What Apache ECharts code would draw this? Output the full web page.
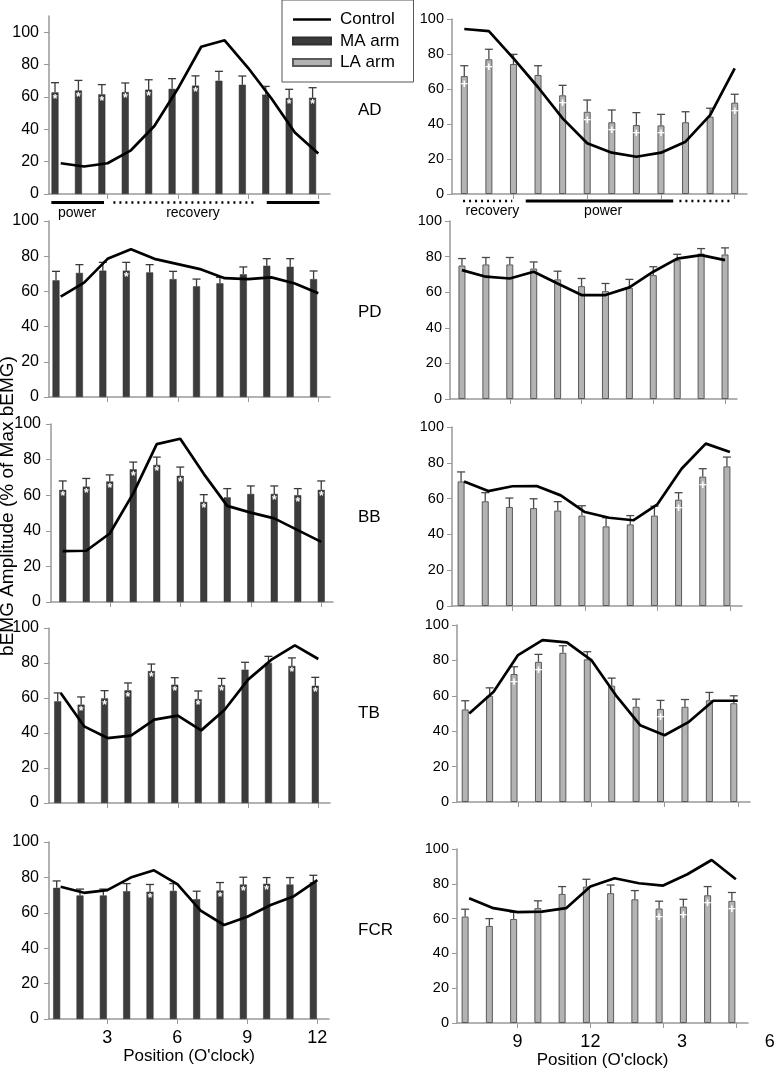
<!DOCTYPE html>
<html>
<head>
<meta charset="utf-8">
<title>bEMG amplitude by clock position</title>
<script src="https://cdn.jsdelivr.net/npm/echarts@6/dist/echarts.min.js"></script>
<style>
  html, body { margin: 0; padding: 0; background: #fff; }
  #chart { width: 777px; height: 1068px; }
</style>
</head>
<body>
<div id="chart"></div>
<script>
// clock positions: MA arm cycle starts at 1 o'clock, LA arm at 7 o'clock
var posMA = ['1', '2', '3', '4', '5', '6', '7', '8', '9', '10', '11', '12'];
var posLA = ['7', '8', '9', '10', '11', '12', '1', '2', '3', '4', '5', '6'];
var yTicks = [0, 20, 40, 60, 80, 100];

// MA arm (left column): mean, SD, control line, significance (*)
var maAD     = [62.8, 64.0, 61.6, 63.0, 64.5, 65.0, 67.0, 70.0, 67.5, 61.4, 59.3, 59.5];
var maADsd   = [6.0, 6.2, 6.0, 5.6, 6.1, 6.3, 6.0, 5.8, 5.4, 5.1, 5.4, 6.2];
var ctlMaAD  = [19, 17, 19, 27, 42, 65, 91, 95, 78, 59, 38, 25];
var sigMaAD  = [1, 1, 1, 1, 1, 0, 1, 0, 0, 0, 1, 1];

var maPD     = [66.3, 70.5, 71.8, 71.8, 70.8, 67.0, 62.9, 64.6, 69.7, 74.6, 74.0, 67.0];
var maPDsd   = [5.1, 4.7, 4.7, 4.7, 4.4, 4.4, 4.1, 3.4, 4.2, 4.0, 4.6, 4.6];
var ctlMaPD  = [57, 65, 78.5, 84, 78.5, 75.5, 72.5, 67.5, 67, 68, 64.5, 59];
var sigMaPD  = [0, 0, 0, 1, 0, 0, 0, 0, 0, 0, 0, 0];

var maBB     = [63.0, 64.8, 67.7, 74.6, 77.0, 70.9, 56.2, 58.8, 60.7, 60.7, 60.0, 63.0];
var maBBsd   = [5.0, 4.6, 3.7, 4.0, 4.4, 4.9, 4.1, 4.9, 4.5, 4.5, 3.7, 5.0];
var ctlMaBB  = [28.6, 28.8, 38.5, 61, 88.7, 91.7, 72, 54, 50.2, 47, 40.4, 33.8];
var sigMaBB  = [1, 1, 1, 1, 1, 1, 1, 0, 0, 1, 1, 1];

var maTB     = [58.1, 56.2, 59.8, 64.4, 75.4, 67.6, 59.4, 67.4, 76.2, 80.0, 78.3, 67.0];
var maTBsd   = [4.8, 4.4, 4.4, 4.2, 4.0, 4.0, 4.6, 3.8, 4.2, 3.8, 4.6, 4.8];
var ctlMaTB  = [62.9, 43.8, 37.1, 38.5, 47.6, 49.9, 41.5, 53.3, 70.5, 81.9, 90.1, 82.3];
var sigMaTB  = [0, 1, 1, 1, 1, 1, 1, 1, 0, 0, 1, 1];

var maFCR    = [74.1, 69.8, 69.8, 72.2, 71.9, 72.4, 67.7, 72.6, 76.0, 76.4, 76.0, 77.3];
var maFCRsd  = [3.9, 3.6, 3.6, 4.3, 4.1, 4.1, 4.5, 4.5, 4.1, 3.5, 3.9, 3.9];
var ctlMaFCR = [74.7, 71.3, 72.8, 79.9, 84, 76.2, 61.2, 53.1, 57.8, 64.4, 69.4, 78.4];
var sigMaFCR = [0, 0, 0, 0, 1, 0, 0, 1, 1, 1, 0, 0];

// LA arm (right column): mean, SD, control line, significance (+)
var laAD     = [67.4, 77.0, 74.3, 68.0, 56.4, 47.0, 41.0, 39.4, 39.2, 41.0, 44.2, 52.2];
var laADsd   = [5.9, 5.7, 5.5, 5.3, 5.7, 6.7, 7.0, 7.1, 6.3, 6.0, 4.8, 4.8];
var ctlLaAD  = [94.3, 93.1, 77.5, 61, 43.2, 29, 23.6, 21.3, 23.6, 29.9, 45.1, 71.8];
var sigLaAD  = [1, 1, 0, 0, 1, 1, 1, 1, 1, 0, 0, 1];

var laPD     = [75.0, 75.6, 75.6, 73.3, 67.2, 63.4, 60.6, 62.5, 69.6, 78.0, 81.7, 81.2];
var laPDsd   = [3.9, 3.9, 3.9, 3.7, 4.6, 4.3, 4.3, 4.7, 4.7, 3.3, 2.8, 3.7];
var ctlLaPD  = [72.4, 68.7, 67.7, 71.5, 64.9, 58.4, 58.4, 62.7, 71.5, 78.9, 80.8, 78];
var sigLaPD  = [0, 0, 0, 0, 0, 0, 0, 0, 0, 0, 0, 0];

var laBB     = [69.6, 58.5, 55.3, 54.7, 53.3, 50.5, 44.5, 45.6, 50.5, 59.4, 72.3, 78.0];
var laBBsd   = [5.3, 4.8, 5.0, 5.2, 5.0, 5.5, 4.8, 4.9, 5.2, 3.9, 4.4, 5.2];
var ctlLaBB  = [69.6, 64.2, 66.9, 67, 61.8, 52.5, 49.3, 47.9, 56.8, 76.7, 90.7, 86];
var sigLaBB  = [0, 0, 0, 0, 0, 0, 0, 0, 0, 1, 1, 0];

var laTB     = [52.3, 60.0, 72.3, 79.2, 84.3, 80.6, 65.7, 53.8, 52.6, 53.8, 57.5, 55.8];
var laTBsd   = [4.9, 4.5, 4.1, 4.2, 4.0, 4.3, 4.3, 4.3, 4.8, 4.1, 4.4, 4.2];
var ctlLaTB  = [50, 62.3, 83, 91.5, 90.2, 80.2, 60.4, 43.4, 37.7, 45.3, 57.2, 57.2];
var sigLaTB  = [0, 0, 1, 1, 0, 0, 0, 0, 1, 0, 0, 0];

var laFCR    = [61.2, 55.8, 59.8, 66.0, 74.2, 78.4, 74.6, 71.1, 65.8, 66.9, 73.4, 70.2];
var laFCRsd  = [4.2, 4.2, 3.9, 4.2, 4.2, 4.2, 4.7, 5.0, 4.2, 4.2, 5.0, 4.8];
var ctlLaFCR = [71.7, 66, 63.7, 64, 66, 78.4, 83.2, 80.3, 79, 85.5, 93.7, 82.6];
var sigLaFCR = [0, 0, 0, 0, 0, 0, 0, 0, 1, 1, 1, 1];

// power / recovery phases under the AD panels (in category steps from position 0)
var phaseMaSpan = [[-0.4, 1.85], [2.25, 8.4], [8.8, 11.05]];
var phaseMaKind = ['power', 'recovery', 'power'];
var phaseMaText = [['power', 0.7], ['recovery', 5.65], null];
var phaseLaSpan = [[-0.05, 1.95], [2.5, 8.5], [8.75, 10.8]];
var phaseLaKind = ['recovery', 'power', 'recovery'];
var phaseLaText = [['recovery', 1.14], ['power', 5.65], null];

var FONT = '"Liberation Sans", Arial, Helvetica, sans-serif';
var MA_COLOR = '#3c3c3c';
var LA_COLOR = '#b3b3b3';
var AXIS_COLOR = '#999';
// thin bar for the Control entry of the legend (corner specks keep the 38x7 box)
var LINE_ICON = 'path://M0,2.2H38V4.8H0Z M0,0H0.01V0.01H0Z M0,7H0.01V7.01H0Z';

var panels = [
  {col: 0, vals: maAD,  sd: maADsd,  ctl: ctlMaAD,  sig: sigMaAD,  box: [49, 16, 281, 178], max: 110, gap: 4.4},
  {col: 0, vals: maPD,  sd: maPDsd,  ctl: ctlMaPD,  sig: sigMaPD,  box: [49, 221, 281, 176], max: 100, gap: 2.4},
  {col: 0, vals: maBB,  sd: maBBsd,  ctl: ctlMaBB,  sig: sigMaBB,  box: [51, 424, 282, 178], max: 100, gap: -7},
  {col: 0, vals: maTB,  sd: maTBsd,  ctl: ctlMaTB,  sig: sigMaTB,  box: [49, 628, 281, 175], max: 100, gap: -1},
  {col: 0, vals: maFCR, sd: maFCRsd, ctl: ctlMaFCR, sig: sigMaFCR, box: [49, 842, 280, 177], max: 100, gap: 1},
  {col: 1, vals: laAD,  sd: laADsd,  ctl: ctlLaAD,  sig: sigLaAD,  box: [452, 19, 295, 175], max: 100, gap: -7},
  {col: 1, vals: laPD,  sd: laPDsd,  ctl: ctlLaPD,  sig: sigLaPD,  box: [450, 221, 287, 178], max: 100, gap: -7},
  {col: 1, vals: laBB,  sd: laBBsd,  ctl: ctlLaBB,  sig: sigLaBB,  box: [452, 427, 290, 179], max: 100, gap: -1},
  {col: 1, vals: laTB,  sd: laTBsd,  ctl: ctlLaTB,  sig: sigLaTB,  box: [457, 625, 293, 177], max: 100, gap: 1},
  {col: 1, vals: laFCR, sd: laFCRsd, ctl: ctlLaFCR, sig: sigLaFCR, box: [457, 849, 291, 174], max: 100, gap: 1}
];

var BAR_W = 7;
function every3(i) { return i % 3 === 2; }

var grids = [], xAxes = [], yAxes = [], series = [];

panels.forEach(function (p, k) {
  var left = p.col === 0;
  var bottom = k === 4 || k === 9;
  var offset = -(BAR_W + p.gap) / 2;
  var gapPct = (p.gap / BAR_W * 100).toFixed(1) + '%';
  var errColor = left ? '#3a3a3a' : '#4a4a4a';

  grids.push({left: p.box[0], top: p.box[1], width: p.box[2], height: p.box[3], outerBoundsMode: 'none'});

  xAxes.push({
    type: 'category', gridIndex: k, data: left ? posMA : posLA, boundaryGap: true,
    axisLine: {lineStyle: {color: AXIS_COLOR, width: 1.5}},
    axisTick: {show: true, alignWithLabel: true, interval: every3, length: 5, lineStyle: {color: AXIS_COLOR}},
    axisLabel: {
      show: bottom, interval: every3, margin: 10, fontSize: 18, color: '#000', fontFamily: FONT,
      formatter: function (v) {
        if (left) return v;
        if (v === '3') return '{s3|' + v + '}';
        if (v === '6') return '{s6|' + v + '}';
        return v;
      },
      rich: {
        s3: {padding: [0, 0, 0, 38], fontSize: 18, color: '#000', fontFamily: FONT},
        s6: {padding: [0, 0, 0, 68], fontSize: 18, color: '#000', fontFamily: FONT}
      }
    },
    name: bottom ? "Position (O'clock)" : '',
    nameLocation: 'middle', nameGap: left ? 29 : 25,
    nameTextStyle: {fontSize: 17, color: '#000', fontFamily: FONT}
  });

  yAxes.push({
    type: 'value', gridIndex: k, min: 0, max: p.max, interval: 20,
    splitLine: {show: false},
    axisLine: {show: true, lineStyle: {color: AXIS_COLOR, width: 1.5}},
    axisTick: {show: true, length: 5, customValues: yTicks, lineStyle: {color: AXIS_COLOR}},
    axisLabel: {
      fontSize: left ? 16 : 14.5, color: '#000', fontFamily: FONT, margin: left ? 10 : 8,
      customValues: yTicks,
      formatter: function (v) { return v > 100 ? '' : v; }
    }
  });

  series.push({
    type: 'bar', name: left ? 'MA arm' : 'LA arm', xAxisIndex: k, yAxisIndex: k,
    data: p.vals, barWidth: BAR_W, barGap: gapPct, silent: true,
    itemStyle: left ? {color: MA_COLOR, borderColor: '#2e2e2e', borderWidth: 0.5}
                    : {color: LA_COLOR, borderColor: '#5a5a5a', borderWidth: 1},
    label: {
      show: true, position: 'insideTop', distance: left ? 1 : 2,
      color: '#fff', fontSize: left ? 12 : 13, fontWeight: 'bold', fontFamily: FONT,
      formatter: function (d) { return p.sig[d.dataIndex] ? (left ? '*' : '+') : ''; }
    },
    z: 2
  });
  // empty slot that pushes the bar off the category centre, like the original
  series.push({
    type: 'bar', name: 'slot', xAxisIndex: k, yAxisIndex: k, data: [],
    barWidth: BAR_W, barGap: gapPct, silent: true
  });

  series.push({
    type: 'custom', name: 'sd', xAxisIndex: k, yAxisIndex: k, silent: true, z: 3,
    data: p.vals.map(function (v, i) { return [i, v, v + p.sd[i]]; }),
    encode: {x: 0, y: [1, 2]},
    renderItem: function (params, api) {
      var base = api.coord([api.value(0), api.value(1)]);
      var top = api.coord([api.value(0), api.value(2)]);
      var x = base[0] + offset;
      var st = {stroke: errColor, lineWidth: 1.3};
      return {type: 'group', children: [
        {type: 'line', shape: {x1: x, y1: base[1], x2: x, y2: top[1]}, style: st},
        {type: 'line', shape: {x1: x - 4, y1: top[1], x2: x + 4, y2: top[1]}, style: st}
      ]};
    }
  });

  series.push({
    type: 'line', name: 'Control', xAxisIndex: k, yAxisIndex: k, data: p.ctl,
    symbol: 'none', silent: true, z: 4,
    lineStyle: {color: '#000', width: 2.7}, itemStyle: {color: '#000'}
  });
});

function phaseSeries(k, spans, kinds, texts, lineOff, textOff) {
  return {
    type: 'custom', name: 'phase', xAxisIndex: k, yAxisIndex: k, silent: true, clip: false, z: 5,
    data: spans.map(function (s, i) { return [i, 0]; }),
    encode: {x: 0, y: 1},
    renderItem: function (params, api) {
      var i = params.dataIndex;
      var x0 = api.coord([0, 0])[0];
      var y = api.coord([0, 0])[1];
      var bw = api.size([1, 0])[0];
      var solid = kinds[i] === 'power';
      var kids = [{
        type: 'line',
        shape: {x1: x0 + spans[i][0] * bw, y1: y + lineOff, x2: x0 + spans[i][1] * bw, y2: y + lineOff},
        style: {stroke: '#000', lineWidth: solid ? 3 : 2.5, lineDash: solid ? null : [2, 4]}
      }];
      if (texts[i]) {
        kids.push({
          type: 'text', x: x0 + texts[i][1] * bw, y: y + textOff,
          style: {text: texts[i][0], fill: '#000', fontSize: 14, fontFamily: FONT, align: 'center', verticalAlign: 'middle'}
        });
      }
      return {type: 'group', children: kids};
    }
  };
}
series.push(phaseSeries(0, phaseMaSpan, phaseMaKind, phaseMaText, 8.5, 19));
series.push(phaseSeries(5, phaseLaSpan, phaseLaKind, phaseLaText, 7, 17));

var muscleLabels = [['AD', 110], ['PD', 312], ['BB', 517], ['TB', 713], ['FCR', 930]];
var graphics = muscleLabels.map(function (m) {
  return {type: 'text', x: 358, y: m[1],
    style: {text: m[0], fill: '#000', fontSize: 17, fontFamily: FONT, align: 'left', verticalAlign: 'middle'}};
});
graphics.push({
  type: 'text', x: 8, y: 506, rotation: Math.PI / 2,
  style: {text: 'bEMG Amplitude (% of Max bEMG)', fill: '#000', fontSize: 19, fontFamily: FONT,
    align: 'center', verticalAlign: 'middle'}
});

var chart = echarts.init(document.getElementById('chart'), null, {renderer: 'canvas'});
chart.setOption({
  animation: false,
  backgroundColor: '#fff',
  textStyle: {fontFamily: FONT},
  legend: {
    left: 282, top: 0, orient: 'vertical', selectedMode: false,
    padding: [11, 14, 11, 10], itemGap: 4.5, itemWidth: 38, itemHeight: 7,
    borderColor: '#555', borderWidth: 1, backgroundColor: '#fff',
    textStyle: {fontSize: 17, color: '#000', fontFamily: FONT, padding: [0, 0, 0, 4]},
    data: [{name: 'Control', icon: LINE_ICON}, {name: 'MA arm', icon: 'rect'}, {name: 'LA arm', icon: 'rect'}]
  },
  grid: grids,
  xAxis: xAxes,
  yAxis: yAxes,
  series: series,
  graphic: graphics
});
</script>
</body>
</html>
